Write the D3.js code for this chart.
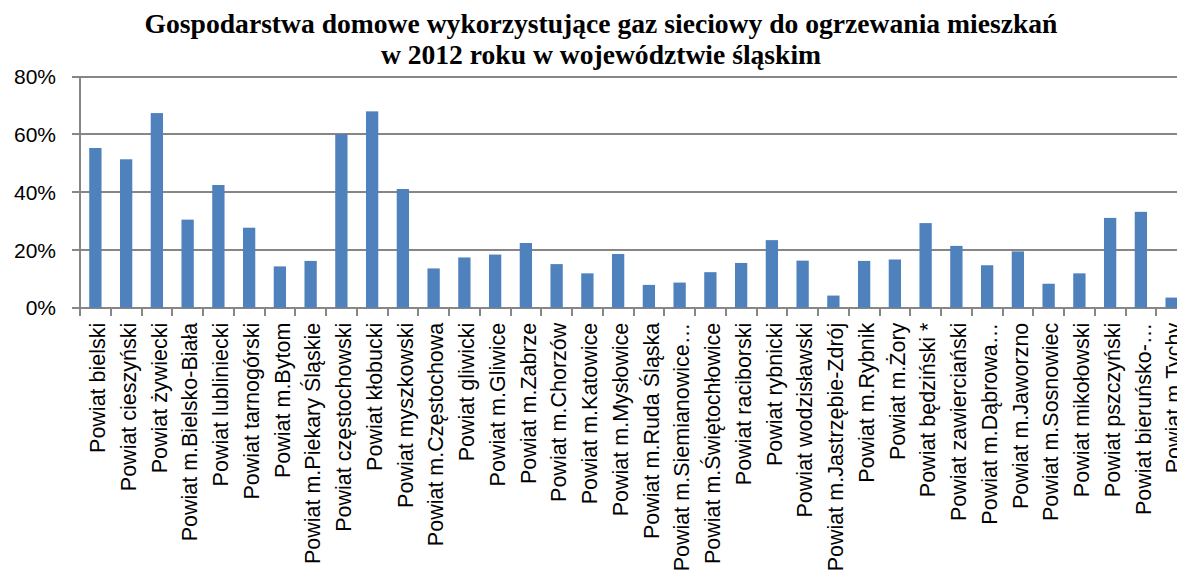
<!DOCTYPE html>
<html>
<head>
<meta charset="utf-8">
<script src="https://cdn.jsdelivr.net/npm/d3@7"></script>
<style>
    body { margin: 0; background: #fff; }
    svg { display: block; }
</style>
</head>
<body>
<div id="chart"></div>
<script>
(function () {
    'use strict';

    var titleLines = [
        'Gospodarstwa domowe wykorzystujące gaz sieciowy do ogrzewania mieszkań',
        'w 2012 roku w województwie śląskim'
    ];

    var categories = [
        'Powiat bielski', 'Powiat cieszyński', 'Powiat żywiecki', 'Powiat m.Bielsko-Biała',
        'Powiat lubliniecki', 'Powiat tarnogórski', 'Powiat m.Bytom', 'Powiat m.Piekary Śląskie',
        'Powiat częstochowski', 'Powiat kłobucki', 'Powiat myszkowski', 'Powiat m.Częstochowa',
        'Powiat gliwicki', 'Powiat m.Gliwice', 'Powiat m.Zabrze', 'Powiat m.Chorzów',
        'Powiat m.Katowice', 'Powiat m.Mysłowice', 'Powiat m.Ruda Śląska', 'Powiat m.Siemianowice…',
        'Powiat m.Świętochłowice', 'Powiat raciborski', 'Powiat rybnicki', 'Powiat wodzisławski',
        'Powiat m.Jastrzębie-Zdrój', 'Powiat m.Rybnik', 'Powiat m.Żory', 'Powiat będziński *',
        'Powiat zawierciański', 'Powiat m.Dąbrowa…', 'Powiat m.Jaworzno', 'Powiat m.Sosnowiec',
        'Powiat mikołowski', 'Powiat pszczyński', 'Powiat bieruńsko-…', 'Powiat m.Tychy'
    ];

    // share of households (fraction)
    var values = [
        0.553, 0.514, 0.674, 0.305, 0.425, 0.277, 0.143, 0.162,
        0.601, 0.680, 0.411, 0.136, 0.174, 0.184, 0.224, 0.151,
        0.119, 0.186, 0.079, 0.087, 0.123, 0.155, 0.234, 0.163,
        0.042, 0.162, 0.167, 0.293, 0.214, 0.147, 0.195, 0.083,
        0.119, 0.311, 0.332, 0.035
    ];

    var yTicks = [0, 0.2, 0.4, 0.6, 0.8];

    var w = 1177,
        h = 571,
        left = 80,
        step = 30.75,
        right = left + step * categories.length,   // runs past the edge, like the original
        plotTop = 76.7,
        plotBottom = 307.7,
        gridColor = '#868686',
        barColor = '#4f81bd',
        sans = '"Liberation Sans", Arial, sans-serif';

    var x = d3.scaleBand()
        .domain(categories)
        .range([left, right])
        .paddingInner(0.6)
        .paddingOuter(0.3);

    var y = d3.scaleLinear()
        .domain([0, 0.8])
        .range([plotBottom, plotTop]);

    var fmt = d3.format('.0%');

    var svg = d3.select('#chart')
        .append('svg')
        .attr('width', w)
        .attr('height', h);

    // title
    svg.append('g')
        .selectAll('text')
        .data(titleLines)
        .enter().append('text')
        .attr('x', 601)
        .attr('y', function (d, i) { return 33 + i * 31; })
        .attr('text-anchor', 'middle')
        .attr('font-family', '"Liberation Serif", "Times New Roman", serif')
        .attr('font-weight', 'bold')
        .attr('font-size', '27.6px')
        .attr('fill', '#000')
        .text(function (d) { return d; });

    // gridlines via the axis generator, snapped to whole pixels
    var yAxis = d3.axisLeft(y)
        .tickValues(yTicks)
        .tickSize(-(right - left))
        .tickFormat('');
    var yg = svg.append('g')
        .attr('transform', 'translate(' + left + ',0)')
        .call(yAxis);
    yg.select('.domain').remove();
    yg.selectAll('.tick')
        .attr('transform', function (d) { return 'translate(0,' + Math.round(y(d)) + ')'; });
    yg.selectAll('.tick line')
        .attr('x1', -8)
        .attr('stroke', gridColor)
        .attr('stroke-width', 2)
        .attr('shape-rendering', 'crispEdges');

    // y axis line
    svg.append('line')
        .attr('x1', left).attr('x2', left)
        .attr('y1', Math.round(y(0.8))).attr('y2', Math.round(y(0)))
        .attr('stroke', gridColor)
        .attr('stroke-width', 2)
        .attr('shape-rendering', 'crispEdges');

    // category tick marks, at the band edges
    var edges = categories.map(function (c) { return x(c) - (x.step() - x.bandwidth()) / 2; });
    edges.push(right);
    svg.append('g')
        .selectAll('line')
        .data(edges)
        .enter().append('line')
        .attr('x1', function (d) { return Math.round(d); })
        .attr('x2', function (d) { return Math.round(d); })
        .attr('y1', Math.round(y(0)))
        .attr('y2', Math.round(y(0)) + 8)
        .attr('stroke', gridColor)
        .attr('stroke-width', 2)
        .attr('shape-rendering', 'crispEdges');

    svg.append('g')
        .selectAll('text')
        .data(yTicks)
        .enter().append('text')
        .attr('x', 56)
        .attr('y', function (d) { return y(d); })
        .attr('dy', '0.36em')
        .attr('text-anchor', 'end')
        .attr('font-family', sans)
        .attr('font-size', '21px')
        .attr('fill', '#000')
        .text(function (d) { return fmt(d); });

    // bars
    svg.append('g')
        .selectAll('rect')
        .data(values)
        .enter().append('rect')
        .attr('x', function (d, i) { return x(categories[i]); })
        .attr('y', function (d) { return y(d); })
        .attr('width', x.bandwidth())
        .attr('height', function (d) { return y(0) - y(d); })
        .attr('fill', barColor);

    // rotated category labels
    svg.append('g')
        .selectAll('text')
        .data(categories)
        .enter().append('text')
        .attr('transform', function (d) {
            return 'translate(' + (x(d) + x.bandwidth() / 2) + ',' + (y(0) + 15) + ') rotate(-90)';
        })
        .attr('dy', '0.45em')
        .attr('text-anchor', 'end')
        .attr('font-family', sans)
        .attr('font-size', '21.5px')
        .attr('fill', '#000')
        .text(function (d) { return d; });
})();
</script>
</body>
</html>
